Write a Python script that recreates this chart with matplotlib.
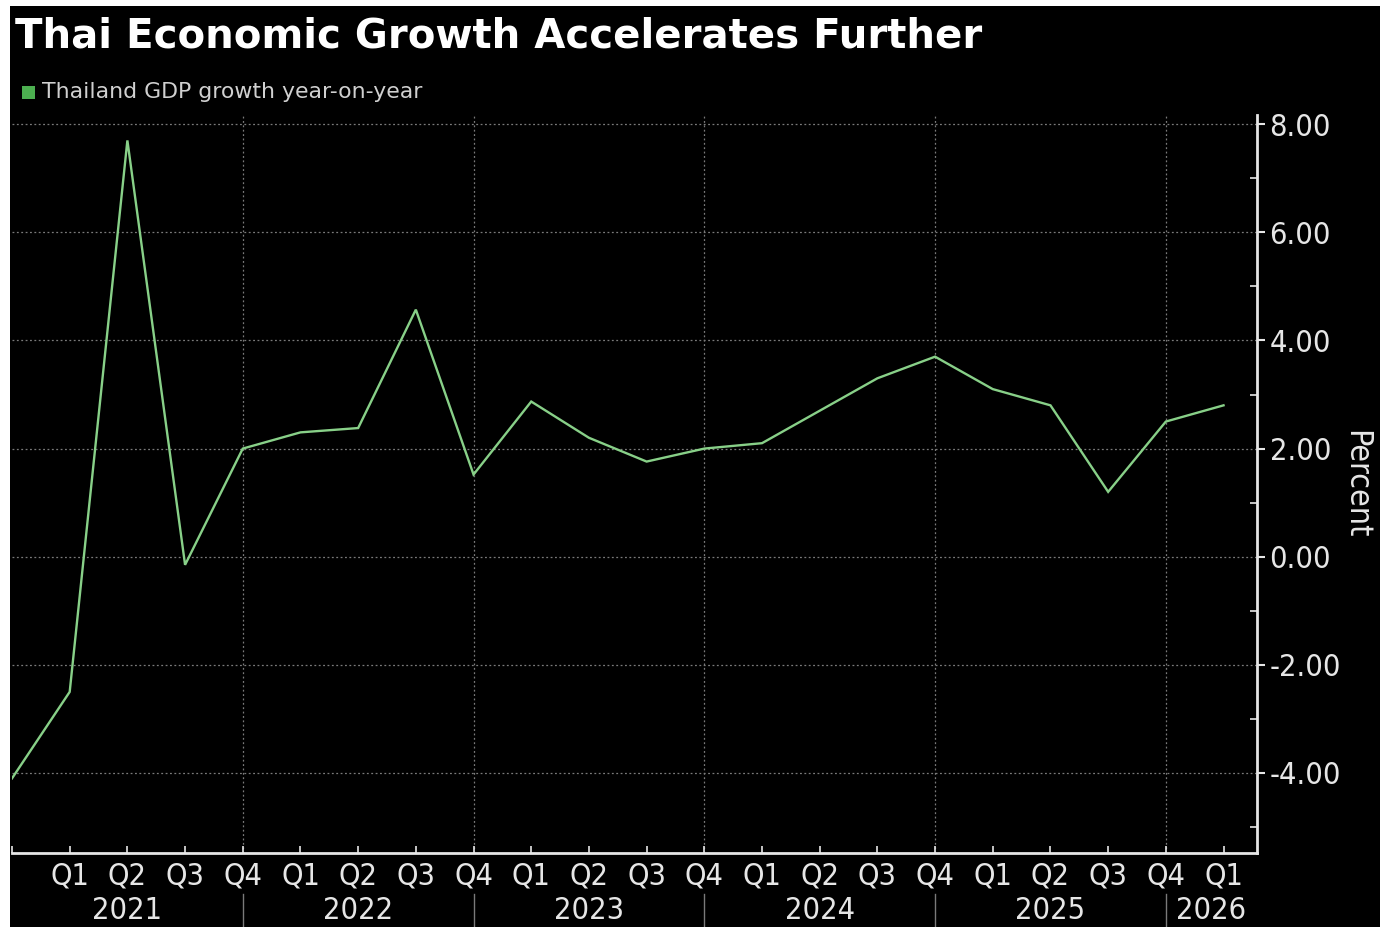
#!/usr/bin/env python3
"""Thai GDP growth, Bloomberg-style dark line chart."""
import matplotlib
matplotlib.use("Agg")
import matplotlib.pyplot as plt  # noqa: E402
from matplotlib.patches import Rectangle  # noqa: E402

# Q4 2020 .. Q1 2026
quarters = ["Q4", "Q1", "Q2", "Q3", "Q4", "Q1", "Q2", "Q3", "Q4", "Q1", "Q2",
            "Q3", "Q4", "Q1", "Q2", "Q3", "Q4", "Q1", "Q2", "Q3", "Q4", "Q1"]
gdp_yoy = [-4.1, -2.5, 7.7, -0.15, 2.0, 2.3, 2.38, 4.57, 1.52, 2.87, 2.2,
           1.76, 2.0, 2.1, 2.7, 3.3, 3.7, 3.1, 2.8, 1.2, 2.5, 2.8]
years = ["2021", "2022", "2023", "2024", "2025", "2026"]
yticks = [-4, -2, 0, 2, 4, 6, 8]

TXT = "#e6e6e6"
LINE = "#88d088"
GRID = "#7a7a7a"
COND = ["DejaVu Sans Condensed", "Liberation Sans Narrow", "DejaVu Sans"]

W, H = 1380, 927
fig = plt.figure(figsize=(W / 100, H / 100), dpi=100, facecolor="white")
# screenshot has a thin white border on the left/top
fig.patches.append(Rectangle((10 / W, 0), 1, (H - 6) / H, transform=fig.transFigure,
                             facecolor="black", edgecolor="none", zorder=-10))

ax = fig.add_axes([12 / W, (H - 853) / H, (1257 - 12) / W, (853 - 115) / H])
ax.set_facecolor("black")

x = list(range(len(gdp_yoy)))
ax.plot(x, gdp_yoy, color=LINE, lw=1.7, solid_joinstyle="miter", zorder=3)

ax.set_xlim(0, 21.58)
ax.set_ylim(-5.48, 8.17)

# y axis on the right
ax.yaxis.tick_right()
ax.yaxis.set_label_position("right")
ax.set_yticks(yticks)
ax.set_yticklabels([f"{v:.2f}" for v in yticks], fontfamily=COND,
                   fontstretch="condensed", fontsize=22, color=TXT)
ax.set_yticks([-5, -3, -1, 1, 3, 5, 7], minor=True)
ax.tick_params(axis="y", which="major", direction="out", length=6, width=1.5,
               color=TXT, pad=3)
ax.tick_params(axis="y", which="minor", direction="in", length=5, width=1.2, color=TXT)
ax.set_ylabel("Percent", rotation=-90, labelpad=22, fontsize=23, color=TXT,
              fontfamily=COND, fontstretch="condensed")

# x axis: quarter ticks
ax.set_xticks(x[1:])
ax.set_xticklabels(quarters[1:], fontfamily=COND, fontstretch="condensed",
                   fontsize=22, color=TXT)
ax.set_xticks([0], minor=True)
ax.tick_params(axis="x", which="both", direction="in", length=5, width=1.2,
               color=TXT, pad=6)

for side in ("left", "top"):
    ax.spines[side].set_visible(False)
for side in ("right", "bottom"):
    ax.spines[side].set_color(TXT)
    ax.spines[side].set_linewidth(2)

# dotted grid
for v in yticks:
    ax.axhline(v, color=GRID, lw=0.9, ls=(0, (1.5, 2)), zorder=1)
sep = [0, 4, 8, 12, 16, 20]
for s in sep[1:]:
    ax.axvline(s, color=GRID, lw=0.9, ls=(0, (1.5, 2)), zorder=1)

# year labels and separators below the axis
trans = ax.get_xaxis_transform()
bounds = sep + [21.58]
for i, yr in enumerate(years):
    ax.text((bounds[i] + bounds[i + 1]) / 2, -0.078, yr, transform=trans,
            ha="center", va="center", fontsize=22, color=TXT, fontfamily=COND,
            fontstretch="condensed")
for s in sep[1:]:
    ax.plot([s, s], [-0.055, -0.11], transform=trans, color=GRID, lw=1,
            clip_on=False)

# title and legend
fig.text(15 / W, 1 - 37 / H, "Thai Economic Growth Accelerates Further",
         fontsize=29, fontweight="bold", color="white", va="center", ha="left")
fig.patches.append(Rectangle((22 / W, 1 - 99 / H), 13 / W, 13 / H,
                             transform=fig.transFigure, facecolor="#4caf50",
                             edgecolor="none"))
fig.text(42 / W, 1 - 92 / H, "Thailand GDP growth year-on-year", fontsize=15.8,
         color="#d0d0d0", va="center", ha="left")

fig.savefig("out.png", dpi=100, facecolor=fig.get_facecolor())
